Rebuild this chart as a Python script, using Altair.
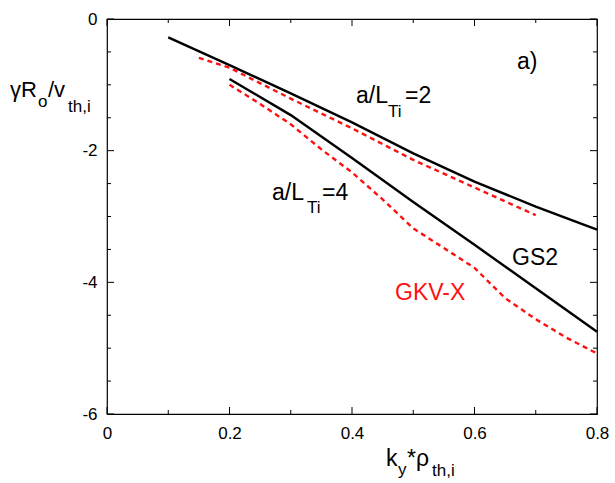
import altair as alt
import pandas as pd

# ---- data ----
k_gs2_2 = [0.1, 0.2, 0.3, 0.4, 0.5, 0.6, 0.7, 0.8]
g_gs2_2 = [-0.28, -0.70, -1.13, -1.57, -2.04, -2.47, -2.85, -3.20]
k_gkv_2 = [0.15, 0.2, 0.3, 0.4, 0.5, 0.6, 0.7]
g_gkv_2 = [-0.59, -0.74, -1.21, -1.66, -2.14, -2.56, -2.98]
k_gs2_4 = [0.2, 0.3, 0.4, 0.5, 0.6, 0.7, 0.8]
g_gs2_4 = [-0.91, -1.46, -2.11, -2.78, -3.43, -4.09, -4.75]
k_gkv_4 = [0.2, 0.25, 0.3, 0.35, 0.4, 0.45, 0.5, 0.55, 0.6, 0.65, 0.7, 0.75, 0.8]
g_gkv_4 = [-1.00, -1.29, -1.60, -1.98, -2.33, -2.74, -3.18, -3.48, -3.78, -4.24, -4.56, -4.84, -5.08]

x_major = [0, 0.2, 0.4, 0.6, 0.8]
x_minor = [0.1, 0.3, 0.5, 0.7]
y_major = [0, -2, -4, -6]
y_minor = [-0.5, -1, -1.5, -2.5, -3, -3.5, -4.5, -5, -5.5]

FONT = "Liberation Sans"
W, H = 490, 395
BIG, SMALL = 23, 17
RED = "#ff1010"


def frame(k, g, case):
    return pd.DataFrame({"k": k, "g": g, "case": case})


gs2 = pd.concat([frame(k_gs2_2, g_gs2_2, "2"), frame(k_gs2_4, g_gs2_4, "4")])
gkv = pd.concat([frame(k_gkv_2, g_gkv_2, "2"), frame(k_gkv_4, g_gkv_4, "4")])

xs = alt.Scale(domain=[0, 0.8], nice=False, zero=False)
ys = alt.Scale(domain=[-6, 0], nice=False, zero=False)

xaxis = alt.Axis(values=x_major, ticks=False, domain=False, grid=False, title=None,
                 labelFontSize=17, labelFont=FONT, labelColor="black", labelPadding=11,
                 labelFlush=False, labelOverlap=False, labelExpr="datum.value + ''")
yaxis = alt.Axis(values=y_major, ticks=False, domain=False, grid=False, title=None,
                 labelFontSize=17, labelFont=FONT, labelColor="black", labelPadding=10,
                 labelFlush=False, labelOverlap=False, labelExpr="datum.value + ''")

base_gs2 = alt.Chart(gs2).mark_line(color="black", strokeWidth=2.4).encode(
    x=alt.X("k:Q", scale=xs, axis=xaxis),
    y=alt.Y("g:Q", scale=ys, axis=yaxis),
    detail="case:N",
)
line_gkv = alt.Chart(gkv).mark_line(color=RED, strokeWidth=2.4, strokeDash=[5, 4]).encode(
    x=alt.X("k:Q", scale=xs), y=alt.Y("g:Q", scale=ys), detail="case:N"
)

# inward ticks on all four sides
xmaj = pd.DataFrame({"v": x_major})
xmin = pd.DataFrame({"v": x_minor})
ymaj = pd.DataFrame({"v": y_major})
ymin = pd.DataFrame({"v": y_minor})
tick_layers = []
for df, ln in ((xmaj, 7), (xmin, 4)):
    tick_layers.append(alt.Chart(df).mark_rule(color="black", strokeWidth=1).encode(
        x=alt.X("v:Q", scale=xs), y=alt.value(H), y2=alt.value(H - ln)))
    tick_layers.append(alt.Chart(df).mark_rule(color="black", strokeWidth=1).encode(
        x=alt.X("v:Q", scale=xs), y=alt.value(0), y2=alt.value(ln)))
for df, ln in ((ymaj, 7), (ymin, 4)):
    tick_layers.append(alt.Chart(df).mark_rule(color="black", strokeWidth=1).encode(
        y=alt.Y("v:Q", scale=ys), x=alt.value(0), x2=alt.value(ln)))
    tick_layers.append(alt.Chart(df).mark_rule(color="black", strokeWidth=1).encode(
        y=alt.Y("v:Q", scale=ys), x=alt.value(W), x2=alt.value(W - ln)))


def dtext(txt, x, y, size=BIG, color="black"):
    return alt.Chart().mark_text(text=txt, align="left", baseline="alphabetic",
                                 fontSize=size, font=FONT, color=color).encode(
        x=alt.datum(x, scale=xs), y=alt.datum(y, scale=ys))


def ptext(txt, x, y, size=BIG, color="black"):
    return alt.Chart().mark_text(text=txt, align="left", baseline="alphabetic",
                                 fontSize=size, font=FONT, color=color).encode(
        x=alt.value(x), y=alt.value(y))


texts = [
    dtext("a/L", 0.4065, -1.281), dtext("Ti", 0.4588, -1.484, SMALL), dtext("=2", 0.4865, -1.281),
    dtext("a/L", 0.2694, -2.750), dtext("Ti", 0.3265, -2.953, SMALL), dtext("=4", 0.3510, -2.750),
    dtext("a)", 0.6694, -0.764),
    dtext("GS2", 0.6612, -3.737),
    dtext("GKV-X", 0.4702, -4.269, color=RED),
    # y title
    ptext("γR", -97, 77.7, 22), ptext("o", -69, 87.7, SMALL), ptext("/v", -59, 77.7, 22),
    ptext("th,i", -39, 93, SMALL),
    # x title
    ptext("k", 279, 447), ptext("y", 291, 456, SMALL), ptext("*", 300, 447), ptext("ρ", 309, 447),
    ptext("th,i", 325, 457, SMALL),
]

chart = alt.layer(base_gs2, line_gkv, *tick_layers, *texts).properties(
    width=W, height=H,
    padding={"left": 107, "top": 19, "right": 18, "bottom": 69},
    autosize=alt.AutoSizeParams(type="none"),
    background="white",
).configure_view(stroke="black", strokeWidth=1.2)

chart.save("out.html", embed_options={"renderer": "svg", "actions": False})
